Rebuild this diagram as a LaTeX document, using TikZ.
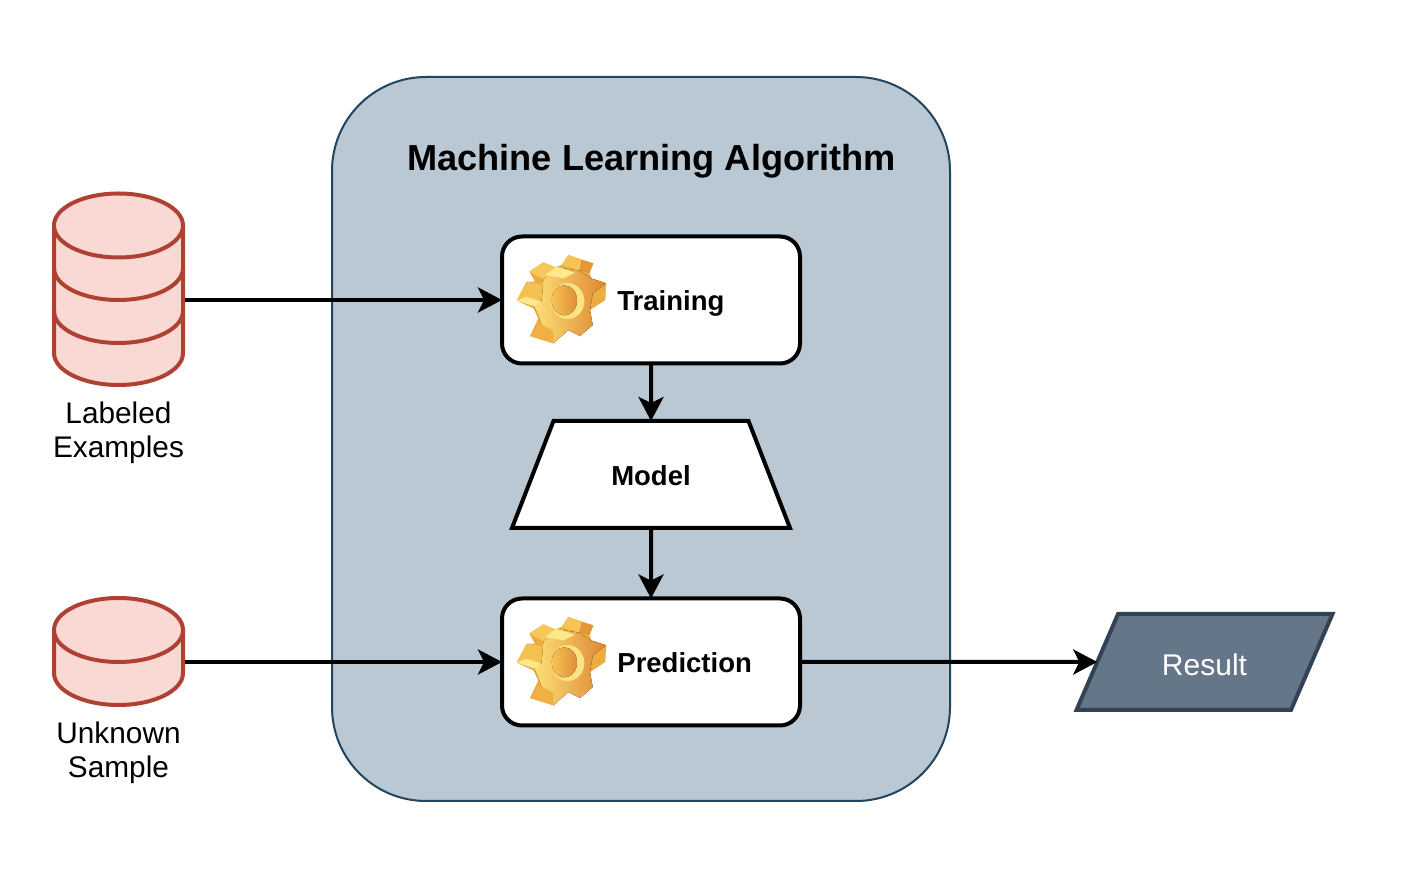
\documentclass[tikz,border=0pt]{standalone}
\usepackage{fontspec}
\setmainfont{Liberation Sans}
\usetikzlibrary{arrows.meta,shapes.geometric}
\definecolor{algofill}{HTML}{BAC8D3}
\definecolor{algoline}{HTML}{23445D}
\definecolor{dbfill}{HTML}{FAD9D5}
\definecolor{dbline}{HTML}{AE4132}
\definecolor{resfill}{HTML}{647687}
\definecolor{resline}{HTML}{314354}
\tikzset{
  algobox/.style={draw=algoline,fill=algofill,line width=1pt,rounded corners=47pt,minimum width=309pt,minimum height=362pt,inner sep=0pt,outer sep=0pt},
  whitebox/.style={draw=black,fill=white,line width=2pt,rounded corners=10pt,minimum width=149pt,minimum height=63.5pt,inner sep=0pt,outer sep=0pt},
  modelshape/.style={draw=black,fill=white,line width=2pt,trapezium,trapezium stretches body=true,trapezium left angle=68.8,trapezium right angle=68.8,minimum width=139pt,inner xsep=0pt,inner ysep=21.75pt,text height=8pt,text depth=2pt,outer sep=0pt},
  resultshape/.style={draw=resline,fill=resfill,line width=2pt,trapezium,trapezium stretches body=true,trapezium left angle=66.6,trapezium right angle=113.4,minimum width=128pt,inner xsep=0pt,inner ysep=19pt,text height=8pt,text depth=2pt,outer sep=0pt,text=white,font=\fontsize{15}{18}\selectfont},
  dbline/.style={draw=dbline,fill=dbfill,line width=2pt},
  dbarc/.style={draw=dbline,line width=2pt},
  anchorbox/.style={inner sep=0pt,outer sep=0pt},
  flow/.style={draw=black,line width=2pt,-{Stealth[length=12pt,width=12.5pt,inset=3pt]}},
  caption/.style={align=center,font=\fontsize{14.9}{17}\selectfont,inner sep=0pt},
  boldlabel/.style={font=\bfseries\fontsize{13.75}{17}\selectfont,inner sep=0pt,anchor=base west},
  titlelabel/.style={font=\bfseries\fontsize{18.1}{22}\selectfont,inner sep=0pt},
}
\newcommand{\lowarc}[1]{(54,#1) .. controls +(0,17.7) and +(-35.6,0) .. ++(64.5,32) .. controls +(35.6,0) and +(0,17.7) .. ++(64.5,-32)}
\newcommand{\gearpic}[2]{%
\begin{scope}[shift={(#1,#2)},x=0.1667pt,y=-0.1667pt]
  % silhouette
  \fill[color={rgb,255:red,236;green,172;blue,66}] (205,75)--(280,100)--(268,130)--(275,145)--(318,160)--(316,210)--(270,240)--(278,285)--(240,318)--(205,300)--(160,340)--(90,318)--(115,265)--(100,235)--(50,212)--(80,155)--(105,155)--(88,125)--(130,97)--(165,112)--(185,105)--cycle;
  % upper-left tooth and left tooth sides
  \fill[color={rgb,255:red,246;green,200;blue,92}] (88,125)--(130,97)--(165,112)--(135,150)--cycle;
  \fill[color={rgb,255:red,244;green,192;blue,80}] (80,155)--(135,165)--(118,222)--(50,212)--cycle;
  % top tooth
  \fill[color={rgb,255:red,246;green,196;blue,86}] (205,75)--(245,90)--(238,122)--(185,105)--cycle;
  \fill[color={rgb,255:red,226;green,150;blue,56}] (245,90)--(280,100)--(268,130)--(238,122)--cycle;
  % hub
  \fill[left color={rgb,255:red,252;green,224;blue,120},right color={rgb,255:red,222;green,135;blue,50}]
    (130,150)--(170,112)--(238,122)--(272,145)--(318,160)--(278,190)--(270,240)--(278,285)--(240,318)--(205,300)--(160,340)--(125,282)--(108,240)--(100,225)--(125,215)--cycle;
  % lit edges
  \fill[color={rgb,255:red,253;green,232;blue,140}] (50,212)--(78,200)--(125,215)--(100,228)--cycle;
  \fill[color={rgb,255:red,253;green,232;blue,140}] (135,135)--(170,110)--(225,128)--(190,145)--cycle;
  \fill[color={rgb,255:red,240;green,176;blue,70}] (90,318)--(118,280)--(160,302)--(160,340)--cycle;
  % hole
  \fill[color={rgb,255:red,252;green,226;blue,130}] (203,213) ellipse [x radius=50, y radius=54];
  \fill[left color={rgb,255:red,246;green,196;blue,84},right color={rgb,255:red,224;green,142;blue,54}] (193,211) ellipse [x radius=38, y radius=45];
\end{scope}}
\begin{document}
\begin{tikzpicture}[x=0.5pt,y=-0.5pt]
\useasboundingbox (0,0) rectangle (1403,870);
\node[algobox] (algo) at (641,439) {};
\node[titlelabel] (title) at (651.5,161) {Machine Learning Algorithm};
% databases
\path[dbline] \lowarc{353} -- (183,225.5) -- (54,225.5) -- cycle;
\path[dbline] (54,225.5) .. controls +(0,-17.7) and +(-35.6,0) .. ++(64.5,-32) .. controls +(35.6,0) and +(0,-17.7) .. ++(64.5,32) .. controls +(0,17.7) and +(35.6,0) .. ++(-64.5,32) .. controls +(-35.6,0) and +(0,17.7) .. cycle;
\path[dbarc] \lowarc{268};
\path[dbarc] \lowarc{311};
\node[anchorbox,minimum width=66pt,minimum height=96pt] (db1) at (118.5,289) {};
\path[dbline] \lowarc{673} -- (183,630) -- (54,630) -- cycle;
\path[dbline] (54,630) .. controls +(0,-17.7) and +(-35.6,0) .. ++(64.5,-32) .. controls +(35.6,0) and +(0,-17.7) .. ++(64.5,32) .. controls +(0,17.7) and +(35.6,0) .. ++(-64.5,32) .. controls +(-35.6,0) and +(0,17.7) .. cycle;
\node[anchorbox,minimum width=66pt,minimum height=54pt] (db2) at (118.5,651.5) {};
\node[caption] (cap1) at (118.5,433) {Labeled\\Examples};
\node[caption] (cap2) at (118.5,753) {Unknown\\Sample};
% process
\node[whitebox] (train) at (651,300) {};
\node[whitebox] (pred) at (651,662) {};
\node[modelshape,font=\bfseries\fontsize{13.75}{17}\selectfont] (model) at (651,474.5) {\raisebox{-2.5pt}{Model}};
\gearpic{500}{230}
\gearpic{500}{592}
\node[boldlabel] (trainlab) at (617,311) {Training};
\node[boldlabel] (predlab) at (617,673) {Prediction};
\node[resultshape] (result) at (1204.5,662) {\raisebox{-4pt}{Result}};
% connectors
\draw[flow] (db1.east |- train.west) -- (train.west);
\draw[flow] (db2.east |- pred.west) -- (pred.west);
\draw[flow] (train.south) -- (model.north);
\draw[flow] (model.south) -- (pred.north);
\draw[flow] (pred.east) -- (result.west);
\end{tikzpicture}
\end{document}
